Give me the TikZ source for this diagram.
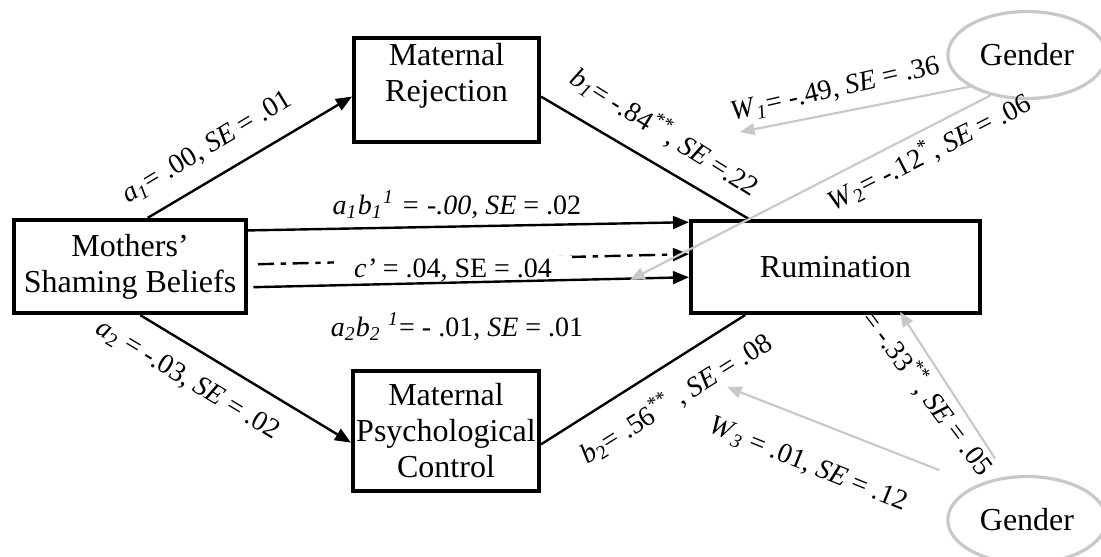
\documentclass[tikz,border=0pt]{standalone}
\usepackage{fontspec}
\setmainfont{Liberation Serif}
\usetikzlibrary{arrows.meta, shapes.geometric}
\definecolor{modgray}{RGB}{200,200,200}

\begin{document}
\begin{tikzpicture}[x=0.375pt, y=-0.375pt,
  var/.style={draw, line width=1.5pt, fill=white, align=center, inner sep=0pt, font=\fontsize{12}{13.5}\selectfont},
  mod/.style={draw=modgray, ellipse, line width=1.2pt, minimum width=53.6pt, minimum height=32.6pt, font=\fontsize{12}{13.5}\selectfont},
  eff/.style={line width=0.9pt, -{Triangle[length=6pt,width=4.8pt]}},
  modarr/.style={modgray, line width=0.8pt, -{Triangle[length=5.5pt,width=4.4pt]}},
  lbl/.style={inner sep=1pt, font=\fontsize{10.5}{12}\selectfont}]
  \clip (0,0) rectangle (1101,556);
  % variables
  \node[var, minimum width=87pt, minimum height=35pt] (msb) at (130,266.5) {Mothers’\\Shaming Beliefs};
  \node[var, minimum width=69.4pt, minimum height=39pt] (mr) at (446.5,90) {Maternal\\Rejection\\~};
  \node[var, minimum width=69.75pt, minimum height=45pt] (mpc) at (446,431) {Maternal\\Psychological\\Control};
  \node[var, minimum width=108.4pt, minimum height=34.5pt] (rum) at (835.5,267) {Rumination};
  \node[mod] (genT) at (1027,55) {Gender};
  \node[mod] (genB) at (1027,520) {Gender};
  % a and b paths
  \draw[eff] (msb.70) -- (mr.184);
  \draw[eff] (msb.282) -- (mpc.187);
  \draw[line width=0.9pt] (mr.356) -- (rum.151);
  \draw[line width=0.9pt] (mpc.352) -- (rum.208);
  % indirect and direct effects
  \draw[eff] (msb.17) -- (rum.163);
  \draw[eff, dash pattern=on 6pt off 2.5pt on 2pt off 2.5pt, shorten <=3.75pt] (msb.1) -- (rum.175);
  \node[lbl, fill=white, inner xsep=7.5pt] (cl) at (453,270) {\textit{c’} = .04, SE = .04};
  \draw[eff, shorten <=2pt] (msb.350) -- (rum.184);
  % moderation by gender
  \coordinate (w1tip) at (740,132);
  \coordinate (w2tip) at (630,280);
  \coordinate (w3tip) at (727,387);
  \coordinate (w4tip) at (900,312);
  \draw[modarr] (genT.209) -- (w1tip);
  \draw[modarr] (genT.228) -- (w2tip);
  \draw[modarr, shorten <=15pt] (genB.145) -- (w3tip);
  \draw[modarr, shorten <=8pt] (genB.115) -- (w4tip);
  % labels
  \node[lbl, rotate=31] (a1l) at (207,148) {\textit{a}\textsubscript{\textit{1}}= .00, \textit{SE} = .01};
  \node[lbl, rotate=-31] (a2l) at (188,380) {\textit{a}\textsubscript{2} = -.03, \textit{SE} = .02};
  \node[lbl] (ab1l) at (457,205) {\textit{a\textsubscript{1}b\textsubscript{1}\textsuperscript{1} = -.00, SE} = .02};
  \node[lbl] (ab2l) at (457,327) {\textit{a\textsubscript{2}b\textsubscript{2} \textsuperscript{1}}= - .01, \textit{SE} = .01};
  \node[lbl, rotate=-32] (b1l) at (665,132) {\textit{b}\textsubscript{\textit{1}}= -.84\textsuperscript{**}, \textit{SE} =.22};
  \node[lbl, rotate=32] (b2l) at (676,398) {\textit{b}\textsubscript{2}= .56\textsuperscript{**} , \textit{SE} = .08};
  \node[lbl, rotate=13] (w1l) at (835,90) {\textit{W}\textsubscript{\textit{1}}= -.49, \textit{SE} = .36};
  \node[lbl, rotate=27] (w2l) at (929,152) {\textit{W}\textsubscript{2}= -.12\textsuperscript{*}, \textit{SE} = .06};
  \node[lbl, rotate=-22] (w3l) at (808,465) {\textit{W}\textsubscript{\textit{3}} = .01, \textit{SE} = .12};
  \node[lbl, rotate=-53] (w4l) at (928,393) {= -.33\textsuperscript{**}, \textit{SE} = .05};
\end{tikzpicture}
\end{document}
